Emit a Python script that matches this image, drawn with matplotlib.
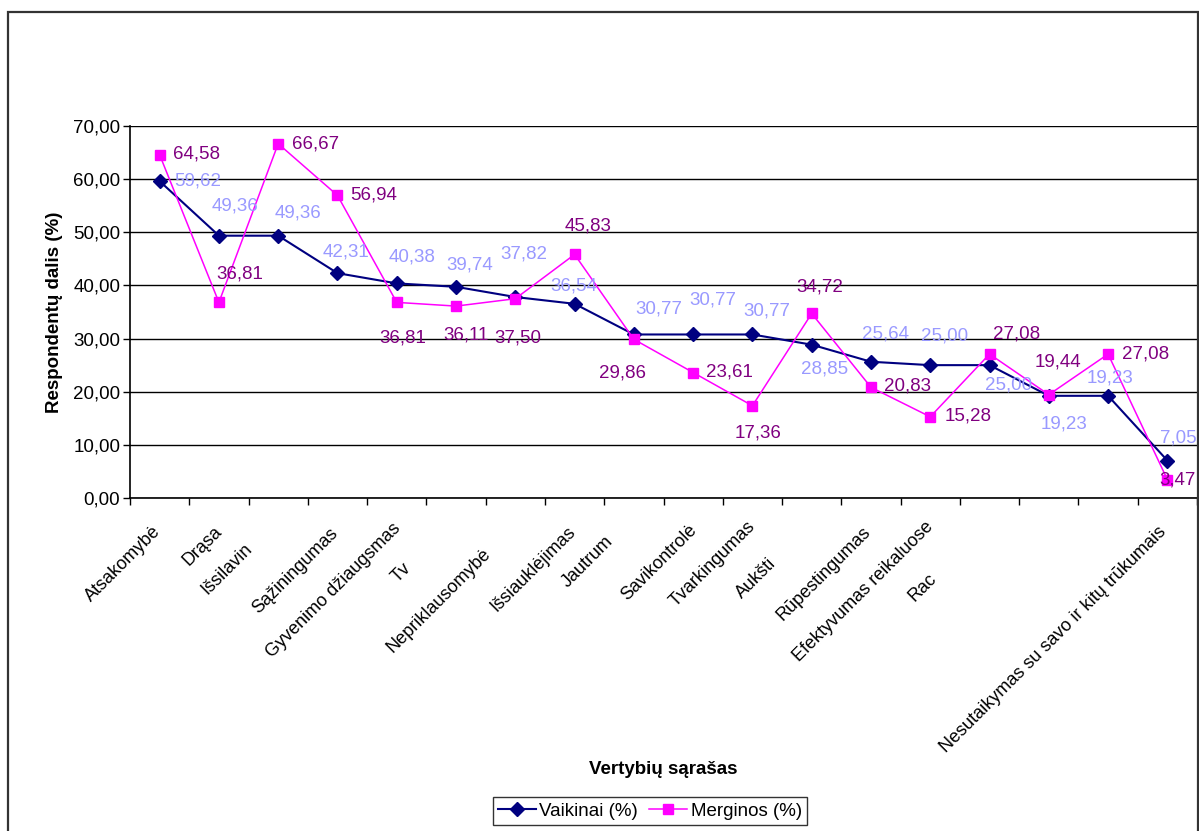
import matplotlib
matplotlib.use("Agg")
import matplotlib.pyplot as plt
import numpy as np
from matplotlib.patches import Rectangle
from matplotlib.lines import Line2D

plt.rcParams["font.family"] = ["Liberation Sans", "DejaVu Sans"]

# Survey results: share of respondents (%) per value
vaikinai = [59.62, 49.36, 49.36, 42.31, 40.38, 39.74, 37.82, 36.54, 30.77,
            30.77, 30.77, 28.85, 25.64, 25.00, 25.00, 19.23, 19.23, 7.05]
merginos = [64.58, 36.81, 66.67, 56.94, 36.81, 36.11, 37.50, 45.83, 29.86,
            23.61, 17.36, 34.72, 20.83, 15.28, 27.08, 19.44, 27.08, 3.47]
series_names = ["Vaikinai (%)", "Merginos (%)"]

category_labels = ["Atsakomybė", "Drąsa", "Išsilavin", "Sąžiningumas",
                   "Gyvenimo džiaugsmas", "Tv", "Nepriklausomybė",
                   "Išsiauklėjimas", "Jautrum", "Savikontrolė", "Tvarkingumas",
                   "Aukšti", "Rūpestingumas", "Efektyvumas reikaluose", "Rac",
                   "Nesutaikymas su savo ir kitų trūkumais"]
y_ticks = [0, 10, 20, 30, 40, 50, 60, 70]

# Placement of the rotated category labels: (x in category units, pixels below axis)
category_label_pos = [(-0.13, 25), (0.90, 25), (1.41, 42), (2.87, 27),
                      (3.92, 22), (4.10, 62), (5.44, 47), (6.87, 25),
                      (7.51, 35), (8.91, 24), (9.91, 20), (10.25, 57),
                      (11.85, 25), (12.91, 20), (12.96, 72), (16.84, 25)]

# Data label offsets in pixels (dx, dy)
vaik_offsets = [(38, 0), (16, 30), (20, 23), (9, 21), (15, 26), (14, 22),
                (9, 43), (-1, 18), (25, 25), (20, 34), (14, 23), (13, -24),
                (15, 28), (14, 29), (19, -20), (15, -28), (2, 18), (11, 23)]
merg_offsets = [(37, 1), (21, 28), (37, 0), (36, 0), (6, -36), (10, -29),
                (3, -39), (13, 28), (-11, -34), (36, 1), (6, -27), (8, 26),
                (37, 1), (38, 1), (27, 20), (9, 33), (37, 0), (10, 0)]

FS = 13.5
W, H = 1199, 831
fig = plt.figure(figsize=(W / 100, H / 100), dpi=100)

# chart area frame
fig.patches.append(Rectangle((8 / W, -0.05), 1189.5 / W, 1 - 12 / H + 0.05,
                             transform=fig.transFigure, fill=False,
                             edgecolor="#333333", linewidth=1.6, zorder=0))

ax = fig.add_axes([130 / W, 1 - 498 / H, 1067 / W, 372 / H])
x = np.arange(len(vaikinai))

navy = "#000080"
magenta = "#FF00FF"
ax.plot(x, vaikinai, color=navy, lw=1.5, marker="D", markersize=7,
        markerfacecolor=navy, markeredgecolor=navy, zorder=3)
ax.plot(x, merginos, color=magenta, lw=1.1, marker="s", markersize=7.5,
        markerfacecolor=magenta, markeredgecolor=magenta, zorder=4)

def fmt(v):
    return f"{v:.2f}".replace(".", ",")

for xi, v, (dx, dy) in zip(x, vaikinai, vaik_offsets):
    ax.annotate(fmt(v), (xi, v), xytext=(dx, dy), textcoords="offset pixels",
                ha="center", va="center", fontsize=FS, color="#9999FF",
                zorder=5, annotation_clip=False)
for xi, v, (dx, dy) in zip(x, merginos, merg_offsets):
    ax.annotate(fmt(v), (xi, v), xytext=(dx, dy), textcoords="offset pixels",
                ha="center", va="center", fontsize=FS, color="#800080",
                zorder=5, annotation_clip=False)

ax.set_xlim(-0.5, len(vaikinai) - 0.5)
ax.set_ylim(0, 70)
ax.set_yticks(y_ticks)
ax.set_yticklabels([fmt(t) for t in y_ticks], fontsize=FS)
ax.set_xticks(np.arange(len(vaikinai) + 1) - 0.5)
ax.set_xticklabels([])
ax.tick_params(axis="both", direction="out", length=5, width=1, color="black")
ax.tick_params(axis="y", pad=2)

ax.yaxis.grid(True, color="black", lw=1)
ax.set_axisbelow(True)
for side in ["top", "right"]:
    ax.spines[side].set_visible(False)
for side in ["left", "bottom"]:
    ax.spines[side].set_color("black")
    ax.spines[side].set_linewidth(1.2)

for text, (px, dy) in zip(category_labels, category_label_pos):
    ax.annotate(text, xy=(px, 0), xycoords=("data", "axes fraction"),
                xytext=(0, -dy), textcoords="offset pixels",
                rotation=45, rotation_mode="anchor", ha="right", va="top",
                fontsize=13, annotation_clip=False)

fig.text(55 / W, 1 - 312 / H, "Respondentų dalis (%)", rotation=90,
         ha="center", va="center", fontsize=FS, fontweight="bold")
fig.text(663 / W, 1 - 770 / H, "Vertybių sąrašas", ha="center", va="center",
         fontsize=FS, fontweight="bold")

handles = [Line2D([], [], color=navy, lw=1.5, marker="D", markersize=7),
           Line2D([], [], color=magenta, lw=1.1, marker="s", markersize=7.5)]
leg = fig.legend(handles, series_names, loc="center", ncol=2,
                 bbox_to_anchor=(650 / W, 1 - 811 / H), fontsize=FS,
                 frameon=True, fancybox=False, edgecolor="black",
                 handlelength=2.0, handletextpad=0.2, columnspacing=0.6,
                 borderpad=0.3, borderaxespad=0)
leg.get_frame().set_linewidth(1.0)

fig.savefig("out.png", dpi=100, facecolor="white")
